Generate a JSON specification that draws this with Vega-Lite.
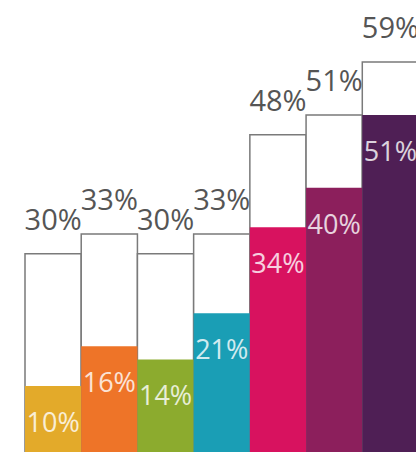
{
  "$schema": "https://vega.github.io/schema/vega-lite/v6.json",
  "width": 416,
  "height": 452,
  "padding": 0,
  "autosize": {"type": "none"},
  "background": "white",
  "config": {"view": {"stroke": null}},
  "data": {
    "values": [
      {"k": "A", "total": 0.30, "part": 0.10},
      {"k": "B", "total": 0.33, "part": 0.16},
      {"k": "C", "total": 0.30, "part": 0.14},
      {"k": "D", "total": 0.33, "part": 0.21},
      {"k": "E", "total": 0.48, "part": 0.34},
      {"k": "F", "total": 0.51, "part": 0.40},
      {"k": "G", "total": 0.59, "part": 0.51}
    ]
  },
  "encoding": {
    "x": {
      "field": "k",
      "type": "nominal",
      "axis": null,
      "sort": null,
      "scale": {"range": [25, 418.5], "paddingInner": 0, "paddingOuter": 0}
    }
  },
  "layer": [
    {
      "mark": {"type": "bar", "fill": "white", "stroke": "#7a7a7a", "strokeWidth": 1.5},
      "encoding": {
        "y": {"field": "total", "type": "quantitative", "axis": null, "scale": {"domain": [0, 0.684], "nice": false}}
      }
    },
    {
      "mark": {"type": "bar"},
      "encoding": {
        "y": {"field": "part", "type": "quantitative"},
        "color": {
          "field": "k",
          "type": "nominal",
          "legend": null,
          "scale": {
            "domain": ["A", "B", "C", "D", "E", "F", "G"],
            "range": ["#e3aa2a", "#ee7428", "#8cab2e", "#1a9eb5", "#d8125f", "#8c1f5c", "#4f1f55"]
          }
        }
      }
    },
    {
      "mark": {"type": "text", "dy": -24, "baseline": "alphabetic", "fontSize": 29, "font": "Open Sans", "fill": "#555555"},
      "encoding": {
        "y": {"field": "total", "type": "quantitative"},
        "text": {"field": "total", "type": "quantitative", "format": ".0%"}
      }
    },
    {
      "mark": {"type": "text", "dy": 46, "baseline": "alphabetic", "fontSize": 27, "font": "Open Sans", "fill": "white", "opacity": 0.8},
      "encoding": {
        "y": {"field": "part", "type": "quantitative"},
        "text": {"field": "part", "type": "quantitative", "format": ".0%"}
      }
    }
  ]
}
